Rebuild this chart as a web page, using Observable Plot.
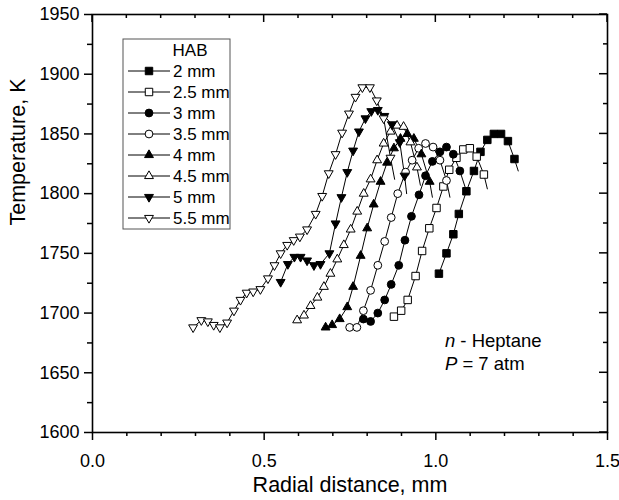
<!DOCTYPE html>
<html><head><meta charset="utf-8">
<script src="https://cdn.jsdelivr.net/npm/d3@7"></script>
<script src="https://cdn.jsdelivr.net/npm/@observablehq/plot@0.6"></script>
<style>body{margin:0;background:#fff}#chart{width:619px;height:500px}</style>
</head><body><div id="chart"></div>
<script>
// ---- data ----
const hab = ["2 mm","2.5 mm","3 mm","3.5 mm","4 mm","4.5 mm","5 mm","5.5 mm"];
const xTicks = [0, 0.5, 1.0, 1.5];
const yTicks = [1600, 1650, 1700, 1750, 1800, 1850, 1900, 1950];

const radial20 = [1.009,1.031,1.051,1.067,1.089,1.111,1.130,1.150,1.169,1.190,1.210,1.229];
const temp20   = [1733,1750,1766,1783,1802,1819,1835,1845,1850,1850,1844,1829];
const tail20   = [1.240, 1819];

const radial25 = [0.878,0.899,0.918,0.941,0.960,0.981,1.002,1.022,1.039,1.060,1.080,1.099,1.119,1.140];
const temp25   = [1697,1702,1711,1731,1752,1771,1788,1806,1820,1830,1837,1838,1831,1816];
const tail25   = [1.150, 1804];

const radial30 = [0.789,0.810,0.831,0.851,0.870,0.892,0.910,0.929,0.951,0.970,0.990,1.012,1.031,1.051,1.070];
const temp30   = [1695,1693,1700,1711,1724,1740,1761,1781,1799,1815,1827,1835,1839,1833,1819];
const tail30   = [1.087, 1804];

const radial35 = [0.749,0.770,0.789,0.810,0.831,0.851,0.870,0.889,0.912,0.931,0.950,0.970,0.992,1.012,1.031];
const temp35   = [1688,1688,1702,1719,1740,1760,1780,1800,1818,1828,1838,1842,1839,1828,1811];
const tail35   = [1.041, 1797];

const radial40 = [0.679,0.698,0.720,0.742,0.759,0.781,0.800,0.819,0.839,0.858,0.878,0.897,0.917,0.936,0.958,0.982];
const temp40   = [1688,1690,1695,1705,1722,1748,1771,1791,1810,1826,1838,1846,1850,1846,1833,1810];
const tail40   = [0.990, 1797];

const radial45 = [0.596,0.616,0.635,0.655,0.674,0.693,0.713,0.732,0.752,0.771,0.790,0.810,0.829,0.848,0.868,0.887,0.906,0.926,0.945];
const temp45   = [1694,1698,1706,1713,1722,1733,1745,1757,1770,1785,1800,1812,1828,1842,1852,1857,1856,1843,1822];
const tail45   = [0.955, 1807];

const radial50 = [0.548,0.569,0.588,0.606,0.625,0.645,0.664,0.690,0.708,0.725,0.742,0.759,0.776,0.795,0.812,0.831,0.850,0.872,0.895,0.909];
const temp50   = [1726,1741,1747,1747,1744,1740,1741,1750,1775,1797,1818,1836,1852,1863,1869,1870,1865,1858,1843,1815];
const tail50   = [0.915, 1800];

const radial55 = [0.293,0.317,0.336,0.353,0.371,0.392,0.412,0.431,0.449,0.468,0.489,0.511,0.530,0.548,0.567,0.586,0.604,0.625,0.650,0.669,0.688,0.708,0.727,0.747,0.766,0.786,0.808,0.828,0.848,0.868];
const temp55   = [1688,1694,1693,1690,1688,1692,1702,1711,1717,1718,1720,1729,1740,1750,1757,1761,1764,1770,1783,1798,1817,1833,1851,1867,1881,1889,1889,1878,1863,1830];
const tail55   = [0.880, 1812];

// ---- styles ----
const triangleDown = {
  draw(context, size) {
    const s3 = Math.sqrt(3);
    const y = -Math.sqrt(size / (3 * s3));
    context.moveTo(0, -2 * y);
    context.lineTo(-s3 * y, y);
    context.lineTo(s3 * y, y);
    context.closePath();
  }
};
const styles = [
  {symbol: "square", fill: "black", r: 4.2},
  {symbol: "square", fill: "white", r: 4.2},
  {symbol: "circle", fill: "black", r: 3.9},
  {symbol: "circle", fill: "white", r: 3.9},
  {symbol: "triangle", fill: "black", r: 3.3},
  {symbol: "triangle", fill: "white", r: 3.3},
  {symbol: triangleDown, fill: "black", r: 3.3},
  {symbol: triangleDown, fill: "white", r: 3.3}
];
const seriesData = [
  [radial20, temp20, tail20], [radial25, temp25, tail25], [radial30, temp30, tail30], [radial35, temp35, tail35],
  [radial40, temp40, tail40], [radial45, temp45, tail45], [radial50, temp50, tail50], [radial55, temp55, tail55]
];

const points = seriesData.map(([rs, ts], i) => rs.map((r, j) => ({hab: hab[i], r, t: ts[j]})));
const lines = seriesData.flatMap(([rs, ts, tail], i) =>
  [...rs.map((r, j) => ({hab: hab[i], r, t: ts[j]})), {hab: hab[i], r: tail[0], t: tail[1]}]);

const font = "'Liberation Sans', Arial, Helvetica, sans-serif";
const minorY = d3.range(1625, 1950, 50);
const minorX = d3.range(1, 15).filter(i => i % 5 !== 0).map(i => i / 10);

const plot = Plot.plot({
  width: 619, height: 500,
  marginLeft: 92, marginRight: 12, marginTop: 14, marginBottom: 68,
  style: {fontFamily: font, fontSize: "18px", color: "black", background: "white", overflow: "visible"},
  x: {domain: [0, 1.5], label: null},
  y: {domain: [1600, 1950], label: null},
  marks: [
    Plot.axisY({ticks: yTicks, tickSize: 8, tickPadding: 5, label: null, fontSize: 18, tickFormat: d3.format("d"), strokeWidth: 1.5}),
    Plot.axisY({ticks: minorY, tickSize: 5, tickFormat: () => "", label: null, strokeWidth: 1.5}),
    Plot.axisX({ticks: xTicks, tickSize: 8, tickPadding: 14, label: null, fontSize: 18, tickFormat: d3.format(".1f"), strokeWidth: 1.5}),
    Plot.axisX({ticks: minorX, tickSize: 4, tickFormat: () => "", label: null, strokeWidth: 1.5}),
    Plot.frame({stroke: "black", strokeWidth: 1.6}),
    Plot.line(lines, {x: "r", y: "t", z: "hab", stroke: "black", strokeWidth: 1}),
    ...points.map((pts, i) => Plot.dot(pts, {x: "r", y: "t", symbol: styles[i].symbol, r: styles[i].r,
      fill: styles[i].fill, stroke: "black", strokeWidth: 1})),
    Plot.text(["Temperature, K"], {frameAnchor: "left", rotate: -90, dx: -74, dy: 2, fontSize: 21.5, fill: "black"}),
    Plot.text(["Radial distance, mm"], {frameAnchor: "bottom", dy: 59, fontSize: 21.5, fill: "black"})
  ]
});
document.getElementById("chart").appendChild(plot);

// ---- mirrored inward ticks (right and top) ----
const svg = d3.select(plot);
const sx = plot.scale("x"), sy = plot.scale("y");
const [x0, x1] = sx.range, [yb, yt] = sy.range;
const g = svg.append("g").attr("stroke", "black").attr("stroke-width", 1.5);
d3.range(0, 15).forEach(i => {
  const v = 1600 + i * 25, len = i % 2 === 0 ? 8 : 4, y = sy.apply(v);
  g.append("line").attr("x1", x1).attr("x2", x1 - len).attr("y1", y).attr("y2", y);
});
d3.range(0, 16).forEach(i => {
  const v = i / 10, len = i % 5 === 0 ? 8 : 4, x = sx.apply(v);
  g.append("line").attr("x1", x).attr("x2", x).attr("y1", yt).attr("y2", yt + len);
});

// ---- legend ----
const symType = {square: d3.symbolSquare, circle: d3.symbolCircle, triangle: d3.symbolTriangle};
const lg = svg.append("g").attr("font-family", font).attr("font-size", 17).attr("fill", "black")
  .attr("text-anchor", "start");
const lx = x0 + 31, ly = yt + 25;
lg.append("rect").attr("x", lx).attr("y", ly).attr("width", 107).attr("height", 190)
  .attr("fill", "white").attr("stroke", "#555").attr("stroke-width", 1);
lg.append("text").attr("x", lx + 67).attr("y", ly + 17).attr("text-anchor", "middle").text("HAB");
hab.forEach((h, i) => {
  const cy = ly + 32 + i * 21;
  lg.append("line").attr("x1", lx + 5).attr("x2", lx + 47).attr("y1", cy).attr("y2", cy).attr("stroke", "black");
  const st = styles[i];
  const type = typeof st.symbol === "string" ? symType[st.symbol] : st.symbol;
  lg.append("path").attr("transform", `translate(${lx + 26},${cy})`)
    .attr("d", d3.symbol(type, Math.PI * st.r * st.r)())
    .attr("fill", st.fill).attr("stroke", "black").attr("stroke-width", 1);
  lg.append("text").attr("x", lx + 50).attr("y", cy).attr("dy", "0.35em").text(h);
});

// ---- annotation ----
const ann = svg.append("g").attr("font-family", font).attr("font-size", 18.5).attr("fill", "black")
  .attr("text-anchor", "start");
const ax = sx.apply(1.028), ay = sy.apply(1671);
const t1 = ann.append("text").attr("x", ax).attr("y", ay);
t1.append("tspan").attr("font-style", "italic").text("n");
t1.append("tspan").text(" - Heptane");
const t2 = ann.append("text").attr("x", ax).attr("y", ay + 23);
t2.append("tspan").attr("font-style", "italic").text("P");
t2.append("tspan").text(" = 7 atm");
</script>
</body></html>
